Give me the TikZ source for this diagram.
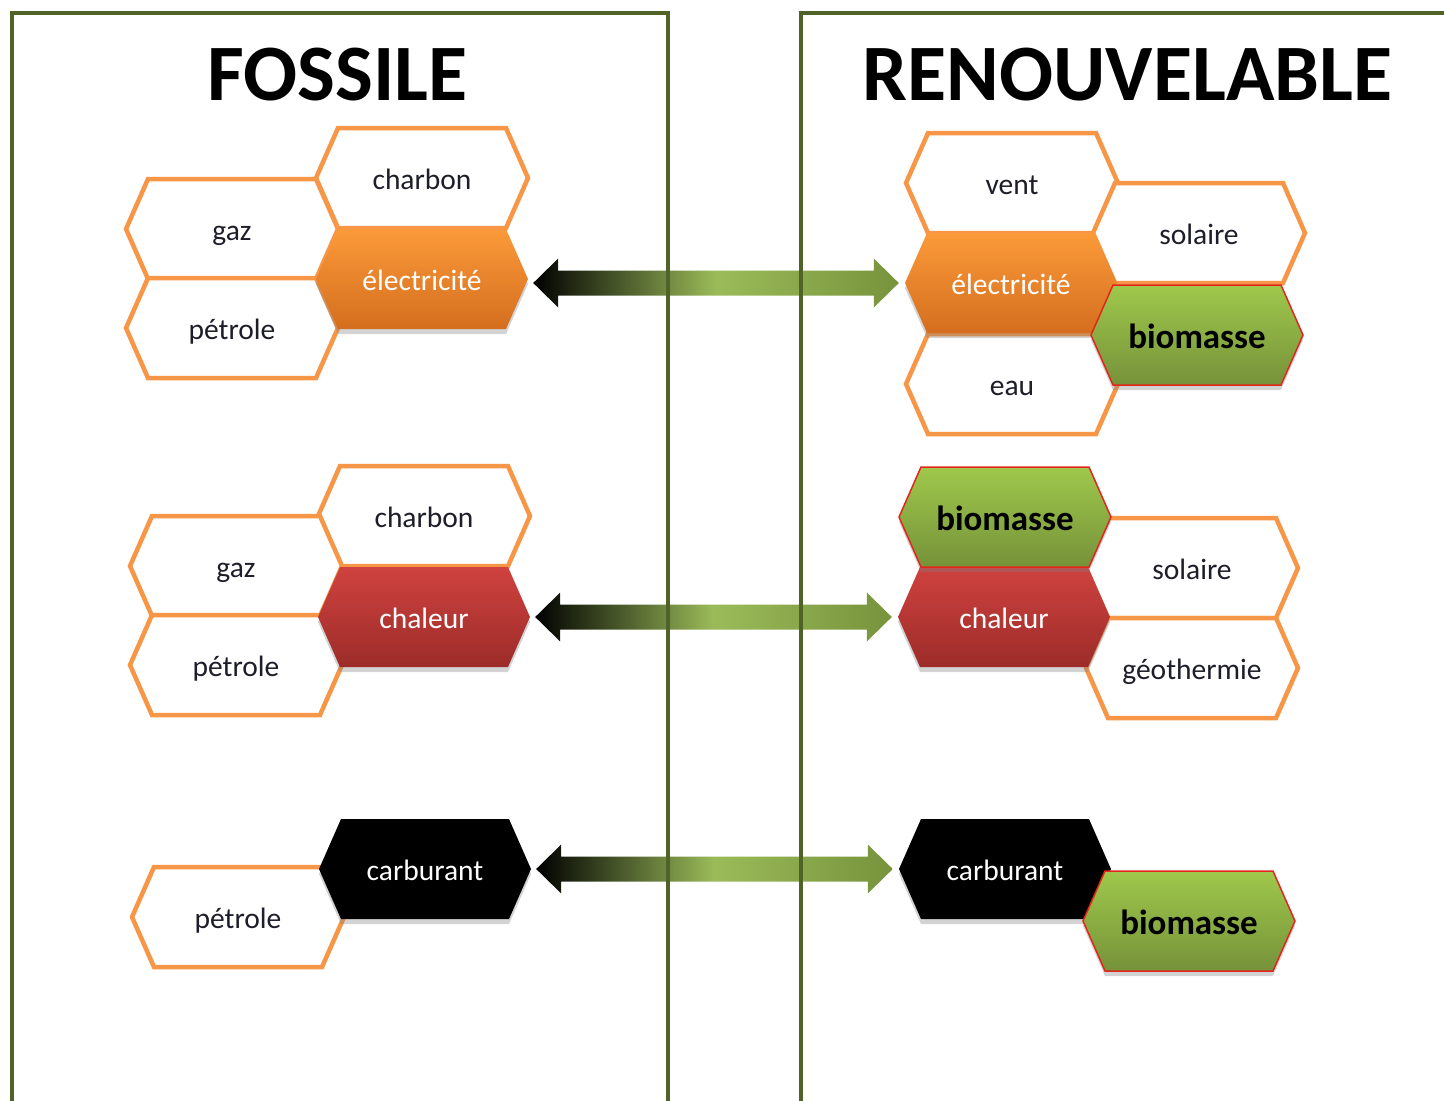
\documentclass[tikz,border=0pt]{standalone}
\usepackage{fontspec}
\setmainfont{Carlito}
\usetikzlibrary{calc,shadows}
\pgfdeclarelayer{bg}
\pgfsetlayers{bg,main}
\definecolor{frameGreen}{HTML}{4F6228}
\definecolor{hexOrange}{HTML}{F79646}
\definecolor{elecTop}{HTML}{FB9A3A}
\definecolor{elecBot}{HTML}{D46E1E}
\definecolor{heatTop}{HTML}{CF423F}
\definecolor{heatBot}{HTML}{9C2C29}
\definecolor{bioTop}{HTML}{9FC84B}
\definecolor{bioBot}{HTML}{76923A}
\definecolor{bioEdge}{HTML}{E3261C}
\definecolor{arrowMid}{HTML}{9BBB59}
\definecolor{arrowEnd}{HTML}{77933C}
\definecolor{labelInk}{HTML}{1E1E2A}
\pgfdeclarehorizontalshading{flowshade}{100bp}{color(0bp)=(black); color(25bp)=(black); color(50bp)=(arrowMid); color(75bp)=(arrowEnd); color(100bp)=(arrowEnd)}
\tikzset{
 hexlabel/.style={inner sep=0pt, minimum width=212pt, minimum height=100pt, text height=23.6pt, text depth=0pt, font=\fontsize{29.5}{34}\selectfont, align=center},
 plainhex/.style={draw=hexOrange, line width=4.5pt, fill=white},
 colshadow/.style={drop shadow={shadow xshift=0pt, shadow yshift=-5pt, opacity=0.35}},
 elechex/.style={top color=elecTop, bottom color=elecBot, colshadow},
 heathex/.style={top color=heatTop, bottom color=heatBot, colshadow},
 biohex/.style={top color=bioTop, bottom color=bioBot, draw=bioEdge, line width=1.5pt, colshadow},
 fuelhex/.style={fill=black, colshadow},
 darklabel/.style={text=labelInk},
 lightlabel/.style={text=white},
 biolabel/.style={text=black, text height=26pt, font=\fontsize{35}{40}\selectfont\bfseries},
 framestroke/.style={draw=frameGreen, line width=4pt},
 flowarrow/.style={shading=flowshade},
 titletext/.style={font=\fontsize{80}{90}\selectfont\bfseries, anchor=base, inner sep=0pt}
}
\newcommand\hexcell[6]{%
 \path[#4] ({#2-106},{#3}) -- ({#2-84},{#3-50}) -- ({#2+84},{#3-50}) -- ({#2+106},{#3}) -- ({#2+84},{#3+50}) -- ({#2-84},{#3+50}) -- cycle;
 \node[hexlabel,#5] (#1) at (#2,#3) {#6};}
\newcommand\flowlink[2]{%
 \path[flowarrow] let \p1=(#1.east), \p2=(#2.west) in
 ({\x1+5pt},{\y2}) -- ({\x1+30pt},{\y2+24.5pt}) -- ({\x1+30pt},{\y2+12.5pt}) -- ({\x2-31pt},{\y2+12.5pt}) -- ({\x2-31pt},{\y2+24.5pt}) -- ({\x2-6pt},{\y2}) -- ({\x2-31pt},{\y2-24.5pt}) -- ({\x2-31pt},{\y2-12.5pt}) -- ({\x1+30pt},{\y2-12.5pt}) -- ({\x1+30pt},{\y2-24.5pt}) -- cycle;}
\begin{document}
\begin{tikzpicture}[x=1pt,y=-1pt]
\useasboundingbox (0,0) rectangle (1444,1101);
% titles
\node[titletext] (fossile) at (337.5,100) {FOSSILE};
\node[titletext] (renouv) at (1127.5,100) {RENOUVELABLE};
% left top
\hexcell{lcharbonA}{422}{178}{plainhex}{darklabel}{charbon}
\hexcell{lgazA}{232}{229}{plainhex}{darklabel}{gaz}
\hexcell{lpetroleA}{232}{328}{plainhex}{darklabel}{pétrole}
\hexcell{lelec}{422}{279}{elechex}{lightlabel}{électricité}
% left middle
\hexcell{lcharbonB}{424}{516}{plainhex}{darklabel}{charbon}
\hexcell{lgazB}{236}{566}{plainhex}{darklabel}{gaz}
\hexcell{lpetroleB}{236}{665}{plainhex}{darklabel}{pétrole}
\hexcell{lheat}{424}{617}{heathex}{lightlabel}{chaleur}
% left bottom
\hexcell{lpetroleC}{238}{917}{plainhex}{darklabel}{pétrole}
\hexcell{lfuel}{425}{869}{fuelhex}{lightlabel}{carburant}
% right top
\hexcell{rvent}{1012}{183}{plainhex}{darklabel}{vent}
\hexcell{reau}{1012}{384}{plainhex}{darklabel}{eau}
\hexcell{rsolaireA}{1199}{233}{plainhex}{darklabel}{solaire}
\hexcell{relec}{1011}{283}{elechex}{lightlabel}{électricité}
\hexcell{rbioA}{1197}{335}{biohex}{biolabel}{biomasse}
% right middle
\hexcell{rsolaireB}{1192}{568}{plainhex}{darklabel}{solaire}
\hexcell{rgeo}{1192}{668}{plainhex}{darklabel}{géothermie}
\hexcell{rheat}{1004}{617}{heathex}{lightlabel}{chaleur}
\hexcell{rbioB}{1005}{517}{biohex}{biolabel}{biomasse}
% right bottom
\hexcell{rfuel}{1005}{869}{fuelhex}{lightlabel}{carburant}
\hexcell{rbioC}{1189}{921}{biohex}{biolabel}{biomasse}
\begin{pgfonlayer}{bg}
\flowlink{lelec}{relec}
\flowlink{lheat}{rheat}
\flowlink{lfuel}{rfuel}
\draw[framestroke] (12,1104) -- (12,13) -- (668,13) -- (668,1104);
\draw[framestroke] (801,1104) -- (801,13) -- (1448,13);
\end{pgfonlayer}
\end{tikzpicture}
\end{document}
